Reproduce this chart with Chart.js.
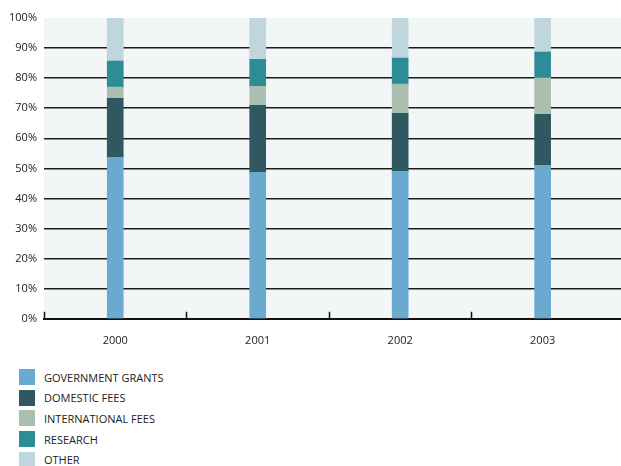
<!DOCTYPE html>
<html>
<head>
<meta charset="utf-8">
<script src="https://cdn.jsdelivr.net/npm/chart.js@4/dist/chart.umd.min.js"></script>
<style>
  body { margin: 0; background: #fff; font-family: "Open Sans", sans-serif; }
  #wrap { position: relative; width: 621px; height: 466px; }
  #chartBox { position: absolute; left: 0; top: 0; width: 621px; height: 354px; }
  #legend { position: absolute; left: 19px; top: 369px; margin: 0; padding: 0; list-style: none; }
  #legend li { height: 16px; margin-bottom: 4.7px; display: flex; align-items: center; font-size: 11px; color: #222; }
  #legend span.box { width: 16px; height: 16px; margin-right: 9px; display: inline-block; }
</style>
</head>
<body>
<div id="wrap">
  <div id="chartBox"><canvas id="fundingChart"></canvas></div>
  <ul id="legend"></ul>
</div>
<script>
const years = ['2000', '2001', '2002', '2003'];
const seriesNames = ['GOVERNMENT GRANTS', 'DOMESTIC FEES', 'INTERNATIONAL FEES', 'RESEARCH', 'OTHER'];
const seriesColors = ['#6aa9d0', '#2f5860', '#aabfb0', '#2e8c96', '#bfd7dc'];

// share of income per year, in percent
const governmentGrants = [53.7, 48.7, 49.0, 51.0];
const domesticFees = [19.6, 22.3, 19.3, 17.0];
const internationalFees = [3.7, 6.3, 9.7, 12.0];
const research = [8.7, 9.0, 8.7, 8.7];
const other = [14.3, 13.7, 13.3, 11.3];

const yTicks = [0, 10, 20, 30, 40, 50, 60, 70, 80, 90, 100];

const allSeries = [governmentGrants, domesticFees, internationalFees, research, other];

const datasets = allSeries.map((vals, i) => ({
  label: seriesNames[i],
  data: vals.map((v, j) => ({ x: j, y: v })),
  backgroundColor: seriesColors[i],
  barThickness: 16,
  borderWidth: 0
}));

// plot panel background + small tick marks between the years
const panelPlugin = {
  id: 'panel',
  beforeDraw(chart) {
    const { ctx, chartArea } = chart;
    ctx.save();
    ctx.fillStyle = '#f2f6f7';
    ctx.fillRect(chartArea.left, chartArea.top, chartArea.right - chartArea.left, chartArea.bottom - chartArea.top);
    ctx.restore();
  },
  afterDraw(chart) {
    const { ctx, chartArea, scales } = chart;
    ctx.save();
    ctx.strokeStyle = '#111';
    ctx.lineWidth = 1.5;
    [-0.5, 0.5, 1.5, 2.5].forEach(v => {
      const px = Math.round(scales.x.getPixelForValue(v)) + 0.5;
      ctx.beginPath();
      ctx.moveTo(px, chartArea.bottom);
      ctx.lineTo(px, chartArea.bottom - 7);
      ctx.stroke();
    });
    ctx.restore();
  }
};

new Chart(document.getElementById('fundingChart'), {
  type: 'bar',
  data: { datasets },
  plugins: [panelPlugin],
  options: {
    responsive: true,
    maintainAspectRatio: false,
    animation: false,
    layout: { padding: { top: 18, right: 0, left: 0, bottom: 0 } },
    plugins: { legend: { display: false }, tooltip: { enabled: false } },
    scales: {
      x: {
        type: 'linear',
        stacked: true,
        offset: false,
        min: -0.5,
        max: 3.55,
        afterBuildTicks: scale => { scale.ticks = years.map((_, i) => ({ value: i })); },
        ticks: {
          callback: v => years[v],
          color: '#222',
          font: { family: 'Open Sans', size: 11 },
          padding: 7,
          maxRotation: 0
        },
        grid: { display: false },
        border: { display: true, color: '#111', width: 2 }
      },
      y: {
        stacked: true,
        min: 0,
        max: 100,
        afterBuildTicks: scale => { scale.ticks = yTicks.map(v => ({ value: v })); },
        afterFit: scale => { scale.width = 44; },
        ticks: {
          callback: v => v + '%',
          color: '#222',
          font: { family: 'Open Sans', size: 11 },
          padding: 7
        },
        grid: {
          color: ctx => (ctx.tick.value === 0 || ctx.tick.value === 100) ? 'rgba(0,0,0,0)' : '#1c1c1c',
          lineWidth: 1.5,
          drawTicks: false
        },
        border: { display: false }
      }
    }
  }
});

// legend list below the chart
const legend = document.getElementById('legend');
seriesNames.forEach((name, i) => {
  const li = document.createElement('li');
  const box = document.createElement('span');
  box.className = 'box';
  box.style.background = seriesColors[i];
  li.appendChild(box);
  li.appendChild(document.createTextNode(name));
  legend.appendChild(li);
});
</script>
</body>
</html>
